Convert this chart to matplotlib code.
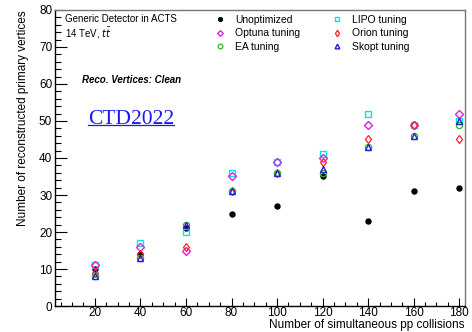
import matplotlib.pyplot as plt
from matplotlib.ticker import MultipleLocator

# pile-up values
mu = [20, 40, 60, 80, 100, 120, 140, 160, 180]

# number of reconstructed vertices per tuning
unoptimized = [10, 14, 21, 25, 27, 35, 23, 31, 32]
lipo = [11, 17, 20, 36, 39, 41, 52, 49, 50]
optuna = [11, 16, 15, 35, 39, 40, 49, 49, 52]
orion = [9, 14, 16, 31, 36, 39, 45, 49, 45]
ea = [8, 13, 22, 31, 36, 36, 43, 46, 49]
skopt = [8, 13, 22, 31, 36, 37, 43, 46, 50]

plt.rcParams['font.family'] = ['Liberation Sans', 'DejaVu Sans']

fig = plt.figure(figsize=(4.72, 3.32), dpi=100)
ax = fig.add_axes([0.1165, 0.0783, 0.8686, 0.8916])

h_unopt, = ax.plot(mu, unoptimized, 'o', color='black', ms=3.6, ls='none', label='Unoptimized')
h_lipo, = ax.plot(mu, lipo, 's', mfc='none', mec='#00e5ee', mew=1.0, ms=4.5, ls='none', label='LIPO tuning')
h_optuna, = ax.plot(mu, optuna, 'D', mfc='none', mec='#e020e0', mew=1.0, ms=3.8, ls='none', label='Optuna tuning')
h_orion, = ax.plot(mu, orion, 'd', mfc='none', mec='#ff2020', mew=0.9, ms=4.5, ls='none', label='Orion tuning')
h_ea, = ax.plot(mu, ea, 'o', mfc='none', mec='#30b030', mew=0.9, ms=4.5, ls='none', label='EA tuning')
h_skopt, = ax.plot(mu, skopt, '^', mfc='none', mec='#2020d0', mew=1.0, ms=4.5, ls='none', label='Skopt tuning')

ax.set_xlim(2.5, 182.5)
ax.set_ylim(0, 80)
ax.xaxis.set_major_locator(MultipleLocator(20))
ax.xaxis.set_minor_locator(MultipleLocator(5))
ax.yaxis.set_major_locator(MultipleLocator(10))
ax.yaxis.set_minor_locator(MultipleLocator(2))
ax.tick_params(axis='both', which='both', direction='in', labelsize=8.5, width=0.8)
ax.tick_params(axis='y', which='major', length=8.5, pad=2)
ax.tick_params(axis='y', which='minor', length=4.5)
ax.tick_params(axis='x', which='major', length=5.5, pad=1)
ax.tick_params(axis='x', which='minor', length=3)
for side in ['left', 'bottom']:
    ax.spines[side].set_linewidth(1.0)
for side in ['top', 'right']:
    ax.spines[side].set_color('#777777')
    ax.spines[side].set_linewidth(1.0)

ax.set_xlabel('Number of simultaneous pp collisions', fontsize=8.5, loc='right', labelpad=-0.5)
ax.set_ylabel('Number of reconstructed primary vertices', fontsize=8.5, loc='top', labelpad=7)

# labels on the canvas
ax.text(0.025, 0.988, 'Generic Detector in ACTS', transform=ax.transAxes, fontsize=7, va='top')
ax.text(0.025, 0.947, r'14 TeV, $t\bar{t}$', transform=ax.transAxes, fontsize=7, va='top')
ax.text(0.065, 0.763, 'Reco. Vertices: Clean', transform=ax.transAxes, fontsize=7,
        fontweight='bold', fontstyle='italic', va='center')
ctd = ax.text(0.08, 0.63, 'CTD2022', transform=ax.transAxes, fontsize=15.5,
              family='Liberation Serif', color='#1a1aee', va='center')

ax.legend(handles=[h_unopt, h_optuna, h_ea, h_lipo, h_orion, h_skopt], ncol=2,
          loc='upper left', bbox_to_anchor=(0.37, 1.012), frameon=False, fontsize=7.5,
          handlelength=0.9, handletextpad=1.0, columnspacing=3.1, labelspacing=0.35,
          borderaxespad=0.4, markerscale=0.75)

# underline the CTD2022 tag
fig.canvas.draw()
bb = ctd.get_window_extent().transformed(ax.transAxes.inverted())
ax.plot([bb.x0, bb.x1], [bb.y0 + 0.012, bb.y0 + 0.012], transform=ax.transAxes,
        color='#1a1aee', lw=0.9, clip_on=False)

fig.savefig('out.png', dpi=100)
